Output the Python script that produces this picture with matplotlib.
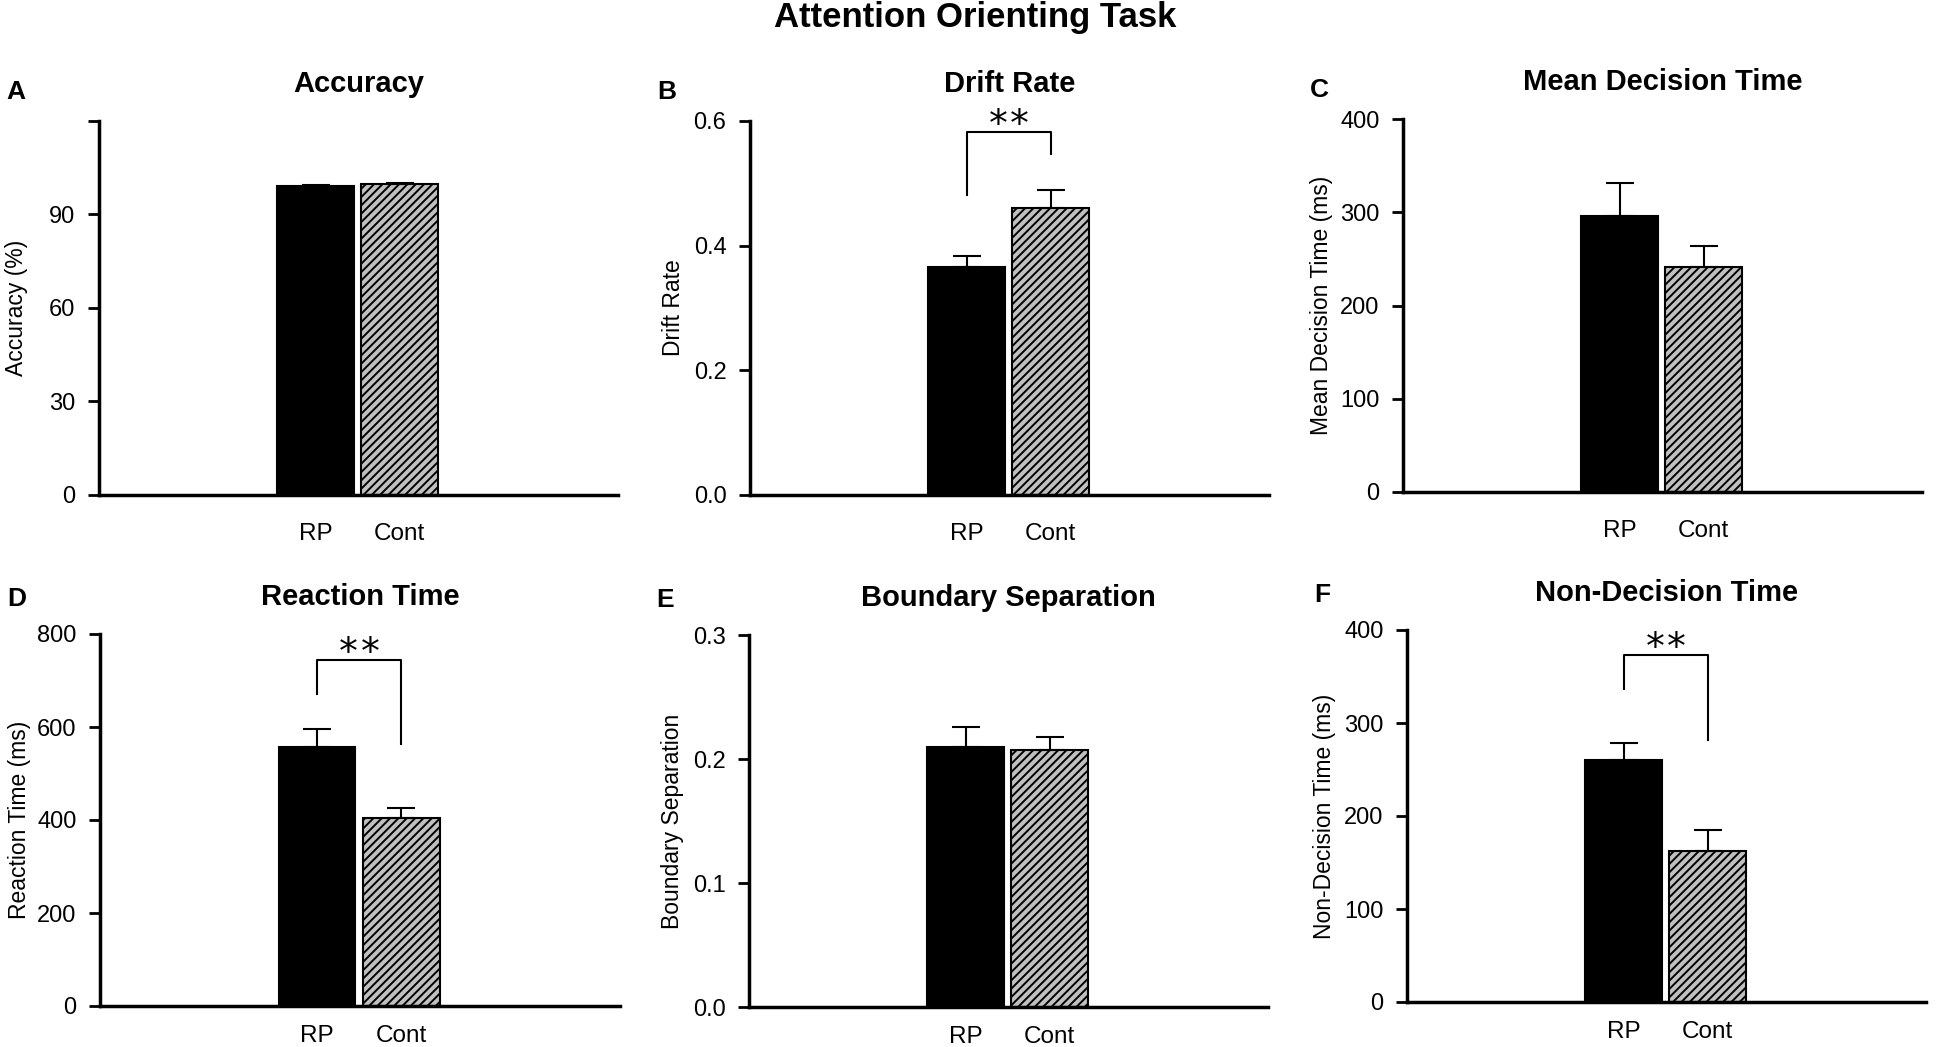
import numpy as np
import matplotlib
matplotlib.use('Agg')
import matplotlib.pyplot as plt

plt.rcParams['font.family'] = ['Liberation Sans', 'DejaVu Sans']
plt.rcParams['hatch.linewidth'] = 1.4
plt.rcParams['hatch.color'] = 'black'

groups = ['RP', 'Cont']
panel_letters = ['A', 'B', 'C', 'D', 'E', 'F']
titles = ['Accuracy', 'Drift Rate', 'Mean Decision Time',
          'Reaction Time', 'Boundary Separation', 'Non-Decision Time']
ylabels = ['Accuracy (%)', 'Drift Rate', 'Mean Decision Time (ms)',
           'Reaction Time (ms)', 'Boundary Separation', 'Non-Decision Time (ms)']

# means and standard errors (RP, Cont)
accuracy = [99.3, 99.8]
accuracy_se = [0.3, 0.2]
drift_rate = [0.366, 0.461]
drift_rate_se = [0.018, 0.028]
decision_time = [296, 241]
decision_time_se = [35, 23]
reaction_time = [557, 405]
reaction_time_se = [38, 20]
boundary_sep = [0.210, 0.207]
boundary_sep_se = [0.016, 0.011]
non_decision = [260, 162]
non_decision_se = [19, 23]

# y-axis ranges and ticks
y_max = [120, 0.6, 400, 800, 0.3, 400]
y_ticks = [[0, 30, 60, 90, 120], [0.0, 0.2, 0.4, 0.6], [0, 100, 200, 300, 400],
           [0, 200, 400, 600, 800], [0.0, 0.1, 0.2, 0.3], [0, 100, 200, 300, 400]]
y_ticklabels = [['0', '30', '60', '90', ''], ['0.0', '0.2', '0.4', '0.6'],
                ['0', '100', '200', '300', '400'], ['0', '200', '400', '600', '800'],
                ['0.0', '0.1', '0.2', '0.3'], ['0', '100', '200', '300', '400']]

# significance brackets: (left foot, top, right foot), None when no bracket
brackets = [None, (0.481, 0.582, 0.547), None,
            (671, 744, 563), None, (337, 373, 282)]

means = [accuracy, drift_rate, decision_time, reaction_time, boundary_sep, non_decision]
errors = [accuracy_se, drift_rate_se, decision_time_se,
          reaction_time_se, boundary_sep_se, non_decision_se]

fig = plt.figure(figsize=(19.5, 10.47), dpi=100)
W, H = 1950, 1047
# axes boxes in pixels: left, top, right, bottom
boxes = [(99, 121, 618, 495), (750, 121, 1269, 495), (1403, 119, 1922, 492),
         (100, 634, 620, 1006), (749, 635, 1268, 1007), (1407, 630, 1926, 1002)]
label_x = [-0.136, -0.126, -0.134, -0.133, -0.125, -0.136]

fig.text(0.5, 1 - 17 / H, 'Attention Orienting Task', ha='center', va='center',
         fontsize=25, fontweight='bold')

x = np.arange(len(groups))
for i in range(6):
    l, t, r, b = boxes[i]
    ax = fig.add_axes([l / W, 1 - b / H, (r - l) / W, (b - t) / H])

    ax.bar(x[0], means[i][0], width=0.91, color='black', edgecolor='black', linewidth=1.5)
    ax.bar(x[1], means[i][1], width=0.91, color='#c0c0c0', edgecolor='black',
           linewidth=1.5, hatch='////')
    ax.errorbar(x, means[i], yerr=[[0, 0], errors[i]], fmt='none', ecolor='black',
                elinewidth=1.5, capsize=10, capthick=1.5)

    if brackets[i] is not None:
        lo, top, ro = brackets[i]
        ax.plot([x[0], x[0], x[1], x[1]], [lo, top, top, ro], color='black',
                linewidth=1.5, clip_on=False)
        # two stars, drawn apart a little
        for dx in (-7.8, 7.8):
            ax.annotate('*', xy=((x[0] + x[1]) / 2, top), xytext=(dx, -3),
                        textcoords='offset points', ha='center', va='baseline',
                        fontsize=27, family='DejaVu Sans', annotation_clip=False)

    ax.set_xlim(-2.58, 3.6)
    ax.set_ylim(0, y_max[i])
    ax.set_yticks(y_ticks[i])
    ax.set_yticklabels(y_ticklabels[i], fontsize=17)
    ax.set_xticks(x)
    ax.set_xticklabels(groups, fontsize=17.5)
    ax.tick_params(axis='x', length=0, pad=20 if i < 3 else 14)
    ax.tick_params(axis='y', length=8, width=2, pad=9)

    for side in ['top', 'right']:
        ax.spines[side].set_visible(False)
    for side in ['left', 'bottom']:
        ax.spines[side].set_linewidth(2.5)

    ax.set_ylabel(ylabels[i], fontsize=16.5)
    ax.yaxis.set_label_coords(label_x[i], 0.5)
    ax.set_title(titles[i], fontsize=21, fontweight='bold', pad=21)
    ax.annotate(panel_letters[i], xy=(0, 1), xycoords='axes fraction',
                xytext=(-67, 16 if i < 3 else 20.5), textcoords='offset points',
                fontsize=19, fontweight='bold', ha='left', va='baseline')

fig.savefig('out.png', dpi=100)
